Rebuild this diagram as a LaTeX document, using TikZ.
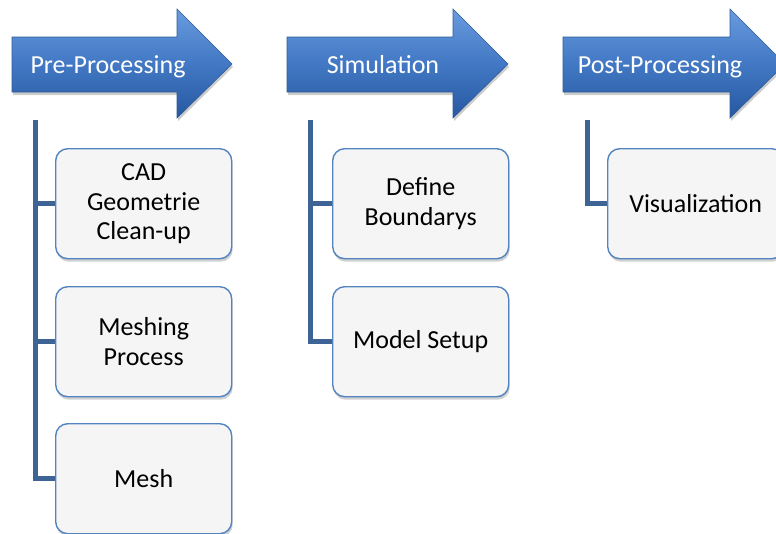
\documentclass[tikz,border=0pt]{standalone}
\usepackage{fontspec}
\setmainfont{Carlito}
\usetikzlibrary{shadows}
\definecolor{arrowtop}{RGB}{105,155,222}
\definecolor{arrowmid}{RGB}{66,120,196}
\definecolor{arrowbot}{RGB}{38,88,160}
\definecolor{arrowedge}{RGB}{48,92,155}
\definecolor{boxedge}{RGB}{84,132,192}
\definecolor{boxfill}{RGB}{245,245,245}
\definecolor{linkcol}{RGB}{62,100,150}
\begin{document}
\begin{tikzpicture}[x=1pt,y=-1pt,
  stepbox/.style={draw=boxedge, line width=1.4pt, fill=boxfill, rounded corners=12pt,
    minimum width=176pt, minimum height=110pt, inner sep=2pt, align=center,
    font=\fontsize{26}{29.3}\selectfont, text=black, anchor=north west,
    drop shadow={shadow xshift=1pt, shadow yshift=-3pt, opacity=0.18, fill=black}},
  arrowshape/.style={draw=arrowedge, line width=0.6pt, top color=arrowtop, bottom color=arrowbot,
    middle color=arrowmid, line join=miter,
    drop shadow={shadow xshift=1pt, shadow yshift=-3pt, opacity=0.2, fill=black}},
  arrowtext/.style={text=white, font=\fontsize{26}{30}\selectfont, anchor=base, inner sep=0pt},
  link/.style={draw=linkcol, line width=5pt, line join=miter}]
\useasboundingbox (0,0) rectangle (776,533);
\clip (0,0) rectangle (776,533);
\fill[white] (0,0) rectangle (776,533);

% arrows
\path[arrowshape] (12,37) -- (177,37) -- (177,9) -- (232,64) -- (177,118) -- (177,92) -- (12,92) -- cycle;
\path[arrowshape] (287,37) -- (453,37) -- (453,9) -- (508,64) -- (453,118) -- (453,92) -- (287,92) -- cycle;
\path[arrowshape] (563,37) -- (730,37) -- (730,9) -- (785,64) -- (730,118) -- (730,92) -- (563,92) -- cycle;
\node[arrowtext] (pre) at (108,73) {Pre-Processing};
\node[arrowtext] (sim) at (383,73) {Simulation};
\node[arrowtext] (post) at (660,73) {Post-Processing};

% boxes
\node[stepbox] (cad) at (55,148) {CAD\\Geometrie\\Clean-up};
\node[stepbox] (meshing) at (55,286) {Meshing\\Process};
\node[stepbox] (mesh) at (55,423) {Mesh};
\node[stepbox] (bound) at (332,148) {Define\\Boundarys};
\node[stepbox] (model) at (332,286) {Model Setup};
\node[stepbox] (vis) at (607,148) {Visualization};

% connectors
\coordinate (pretop) at (35,120);
\coordinate (simtop) at (310,120);
\coordinate (posttop) at (587,120);
\draw[link] (pretop) |- (mesh.west);
\draw[link] (pretop |- cad.west) -- (cad.west);
\draw[link] (pretop |- meshing.west) -- (meshing.west);
\draw[link] (simtop) |- (model.west);
\draw[link] (simtop |- bound.west) -- (bound.west);
\draw[link] (posttop) |- (vis.west);
\end{tikzpicture}
\end{document}
